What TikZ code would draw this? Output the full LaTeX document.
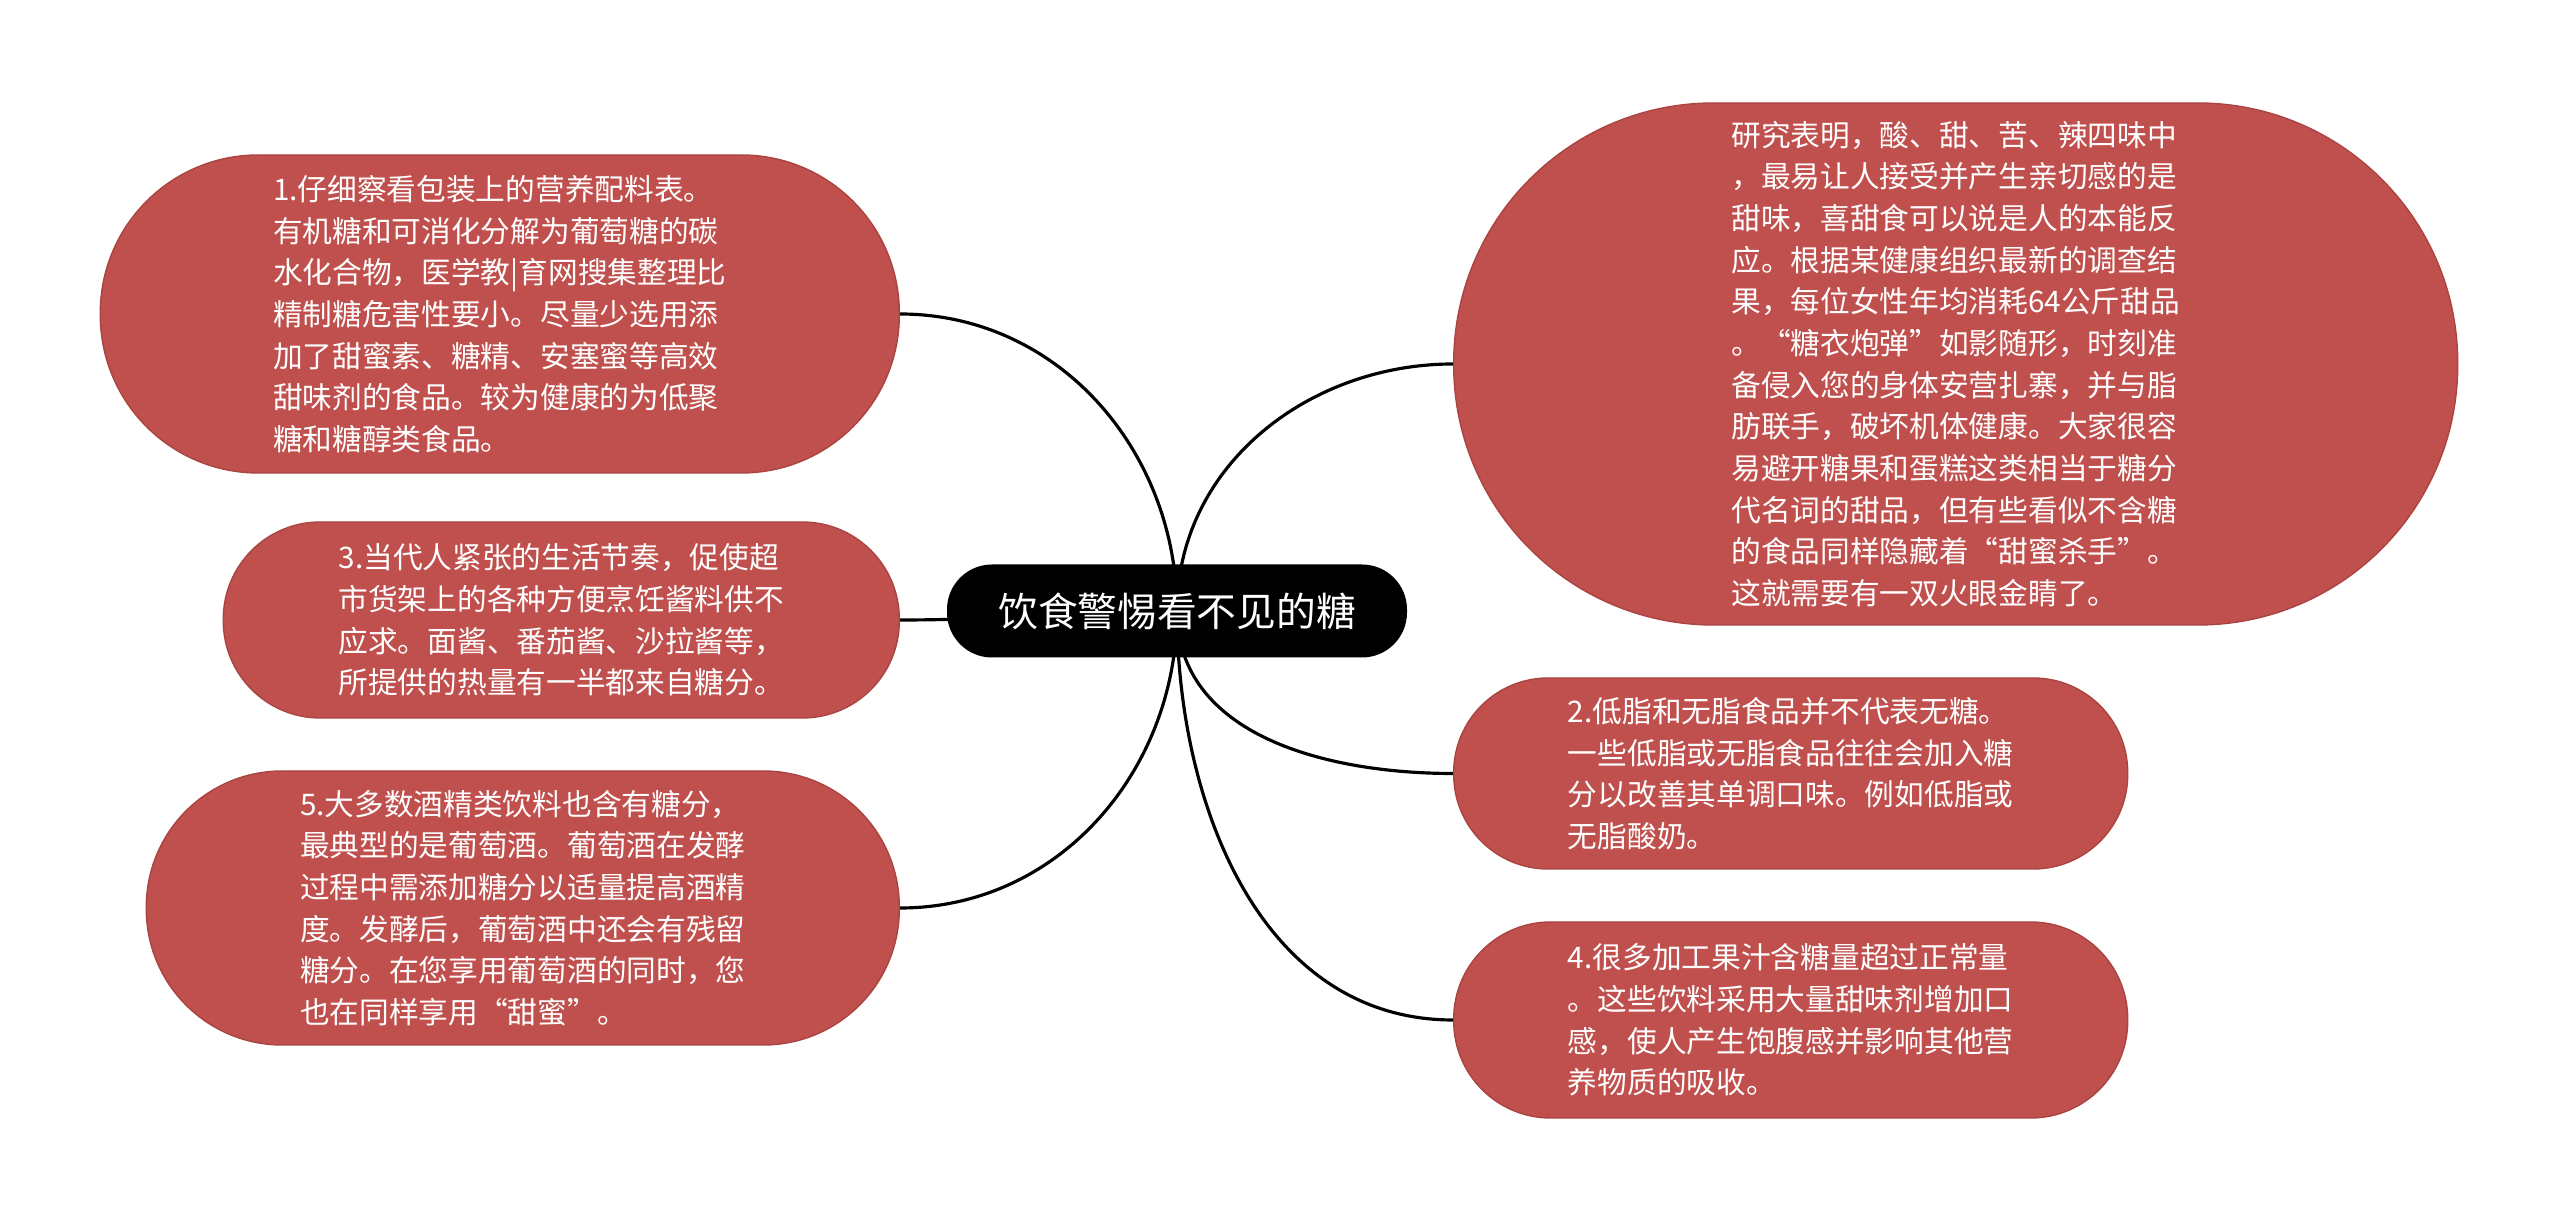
\documentclass[tikz,border=0pt]{standalone}
\usepackage{fontspec}
\setmainfont{Noto Sans CJK SC}
\usepackage{tikz}
\usetikzlibrary{backgrounds}

\definecolor{leafred}{HTML}{C0504D}
\definecolor{leafedge}{HTML}{A94441}
\newcommand{\leaffont}{\fontsize{8.45pt}{11.85pt}\selectfont}
\newcommand{\rootfont}{\fontsize{11.3pt}{13pt}\selectfont}

\begin{document}
\begin{tikzpicture}[
    leaf/.style 2 args={fill=leafred, draw=leafedge, line width=0.4pt, text=white,
      align=left, inner sep=0pt, font=\leaffont,
      minimum width=#1, minimum height=#2, rounded corners=0.5*#2-0.3pt},
    topic/.style={fill=black, text=white, font=\rootfont, inner sep=0pt,
      minimum width=4.6cm, minimum height=0.93cm, rounded corners=0.45cm},
    branch/.style={line width=0.9pt, black}]
        \useasboundingbox (0,0) rectangle (25.6,-12.22);
        \node[topic] (root) at (11.77,-6.11) {饮食警惕看不见的糖};
        % left side
        \node[leaf={7.99cm}{3.18cm}, anchor=east] (n1) at (9.00,-3.14) {%
          1.仔细察看包装上的营养配料表。\\
          有机糖和可消化分解为葡萄糖的碳\\
          水化合物，医学教|育网搜集整理比\\
          精制糖危害性要小。尽量少选用添\\
          加了甜蜜素、糖精、安塞蜜等高效\\
          甜味剂的食品。较为健康的为低聚\\
          糖和糖醇类食品。};
        \node[leaf={6.76cm}{1.96cm}, anchor=east] (n3) at (9.00,-6.20) {%
          3.当代人紧张的生活节奏，促使超\\
          市货架上的各种方便烹饪酱料供不\\
          应求。面酱、番茄酱、沙拉酱等，\\
          所提供的热量有一半都来自糖分。};
        \node[leaf={7.53cm}{2.74cm}, anchor=east] (n5) at (9.00,-9.08) {%
          5.大多数酒精类饮料也含有糖分，\\
          最典型的是葡萄酒。葡萄酒在发酵\\
          过程中需添加糖分以适量提高酒精\\
          度。发酵后，葡萄酒中还会有残留\\
          糖分。在您享用葡萄酒的同时，您\\
          也在同样享用“甜蜜”。};
        % right side
        \node[leaf={10.04cm}{5.22cm}, anchor=west] (r1) at (14.53,-3.64) {%
          研究表明，酸、甜、苦、辣四味中\\
          ，最易让人接受并产生亲切感的是\\
          甜味，喜甜食可以说是人的本能反\\
          应。根据某健康组织最新的调查结\\
          果，每位女性年均消耗64公斤甜品\\
          。“糖衣炮弹”如影随形，时刻准\\
          备侵入您的身体安营扎寨，并与脂\\
          肪联手，破坏机体健康。大家很容\\
          易避开糖果和蛋糕这类相当于糖分\\
          代名词的甜品，但有些看似不含糖\\
          的食品同样隐藏着“甜蜜杀手”。\\
          这就需要有一双火眼金睛了。};
        \node[leaf={6.74cm}{1.91cm}, anchor=west] (r2) at (14.53,-7.735) {%
          2.低脂和无脂食品并不代表无糖。\\
          一些低脂或无脂食品往往会加入糖\\
          分以改善其单调口味。例如低脂或\\
          无脂酸奶。};
        \node[leaf={6.74cm}{1.96cm}, anchor=west] (r4) at (14.53,-10.20) {%
          4.很多加工果汁含糖量超过正常量\\
          。这些饮料采用大量甜味剂增加口\\
          感，使人产生饱腹感并影响其他营\\
          养物质的吸收。};
        \begin{scope}[on background layer]
          \foreach \n/\o/\i in {n1.east/90/0, n3.east/180/0, n5.east/-90/0,
                                r1.west/90/180, r2.west/-90/180, r4.west/-90/180} {
            \draw[branch] (root.center) to[out=\o,in=\i] (\n);
          }
        \end{scope}
      \end{tikzpicture}
\end{document}
